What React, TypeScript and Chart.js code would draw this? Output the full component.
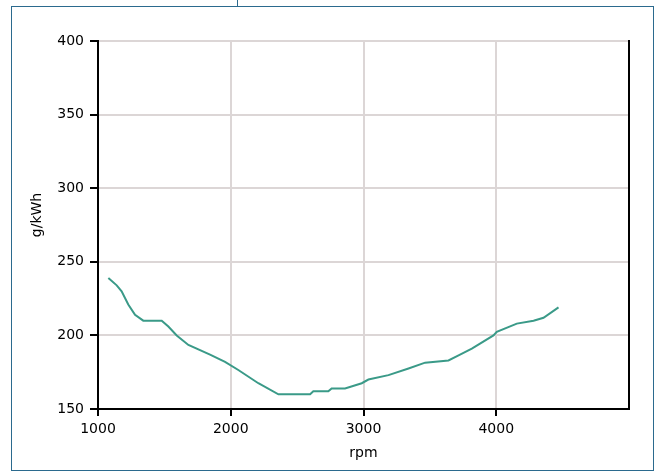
import React, { useEffect, useRef } from "react";
import { Chart, registerables } from "chart.js";

Chart.register(...registerables);

const rpm = [1078, 1141, 1178, 1228, 1279, 1341, 1480, 1530, 1593, 1681, 1844, 1957, 2057, 2208, 2359, 2598, 2622, 2735, 2760, 2861, 2987, 3037, 3188, 3339, 3464, 3640, 3716, 3816, 3979, 4004, 4155, 4281, 4356, 4469];
const gPerKWh = [239, 234, 230, 221, 214, 210, 210, 206, 200, 193.5, 187, 182, 176.5, 167.5, 160, 160, 162, 162, 164, 164, 167.5, 170, 173, 177.5, 181.5, 183, 186.5, 191, 200, 202.5, 208, 210, 212, 219];
const xTitle = "rpm";
const yTitle = "g/kWh";

const FONT = { family: "DejaVu Sans", size: 14 };

export default function App() {
  const ref = useRef<HTMLCanvasElement | null>(null);
  useEffect(() => {
    if (!ref.current) return;
    const yTitlePlugin = {
      id: "yTitle",
      afterDraw(chart: any) {
        const ctx = chart.ctx;
        ctx.save();
        ctx.font = `${FONT.size}px ${FONT.family}`;
        ctx.fillStyle = "#000";
        ctx.textAlign = "center";
        ctx.textBaseline = "middle";
        ctx.translate(37, (chart.chartArea.top + chart.chartArea.bottom) / 2 - 10);
        ctx.rotate(-Math.PI / 2);
        ctx.fillText(yTitle, 0, 0);
        ctx.restore();
      },
    };
    const chart = new Chart(ref.current, {
      type: "line",
      data: {
        datasets: [
          {
            data: rpm.map((r, i) => ({ x: r, y: gPerKWh[i] })),
            borderColor: "#3a9a88",
            borderWidth: 2,
            pointRadius: 0,
            tension: 0,
            fill: false,
          },
        ],
      },
      options: {
        animation: false,
        responsive: false,
        devicePixelRatio: 1,
        layout: { padding: { top: 41, left: 0, right: 0, bottom: 0 } },
        plugins: { legend: { display: false }, tooltip: { enabled: false } },
        scales: {
          x: {
            type: "linear",
            min: 1000,
            max: 5000,
            afterBuildTicks: (s: any) => {
              s.ticks = s.ticks.filter((t: any) => t.value < 5000);
            },
            afterFit: (s: any) => {
              s.height = 62;
            },
            ticks: {
              stepSize: 1000,
              color: "#000",
              font: FONT,
              padding: 5,
              maxRotation: 0,
              autoSkip: false,
              callback: (v: any) => String(v),
            },
            grid: { color: "#dcd6d6", lineWidth: 2, tickColor: "#000", tickWidth: 2, tickLength: 7 },
            border: { color: "#000", width: 2 },
            title: { display: true, text: xTitle, color: "#000", font: FONT, padding: { top: 0, bottom: 9 } },
          },
          y: {
            type: "linear",
            position: "left",
            min: 150,
            max: 400,
            afterFit: (s: any) => {
              s.width = 98;
            },
            ticks: { stepSize: 50, color: "#000", font: FONT, padding: 6, callback: (v: any) => String(v) },
            grid: { color: "#dcd6d6", lineWidth: 2, tickColor: "#000", tickWidth: 2, tickLength: 8 },
            border: { color: "#000", width: 2 },
          },
          y2: {
            type: "linear",
            position: "right",
            min: 150,
            max: 400,
            afterFit: (s: any) => {
              s.width = 28;
            },
            ticks: { display: false },
            grid: { drawOnChartArea: false, drawTicks: false },
            border: { color: "#000", width: 2 },
          },
        },
      },
      plugins: [yTitlePlugin],
    });
    return () => chart.destroy();
  }, []);

  return (
    <div style={{ position: "absolute", left: 0, top: 0, width: 657, height: 471 }}>
      <div
        style={{
          position: "absolute",
          left: 11,
          top: 6,
          width: 643,
          height: 465,
          boxSizing: "border-box",
          border: "1px solid #2b6a8e",
        }}
      />
      <div style={{ position: "absolute", left: 237, top: 0, width: 1, height: 7, background: "#2b6a8e" }} />
      <canvas ref={ref} width={657} height={471} style={{ position: "absolute", left: 0, top: 0 }} />
    </div>
  );
}
